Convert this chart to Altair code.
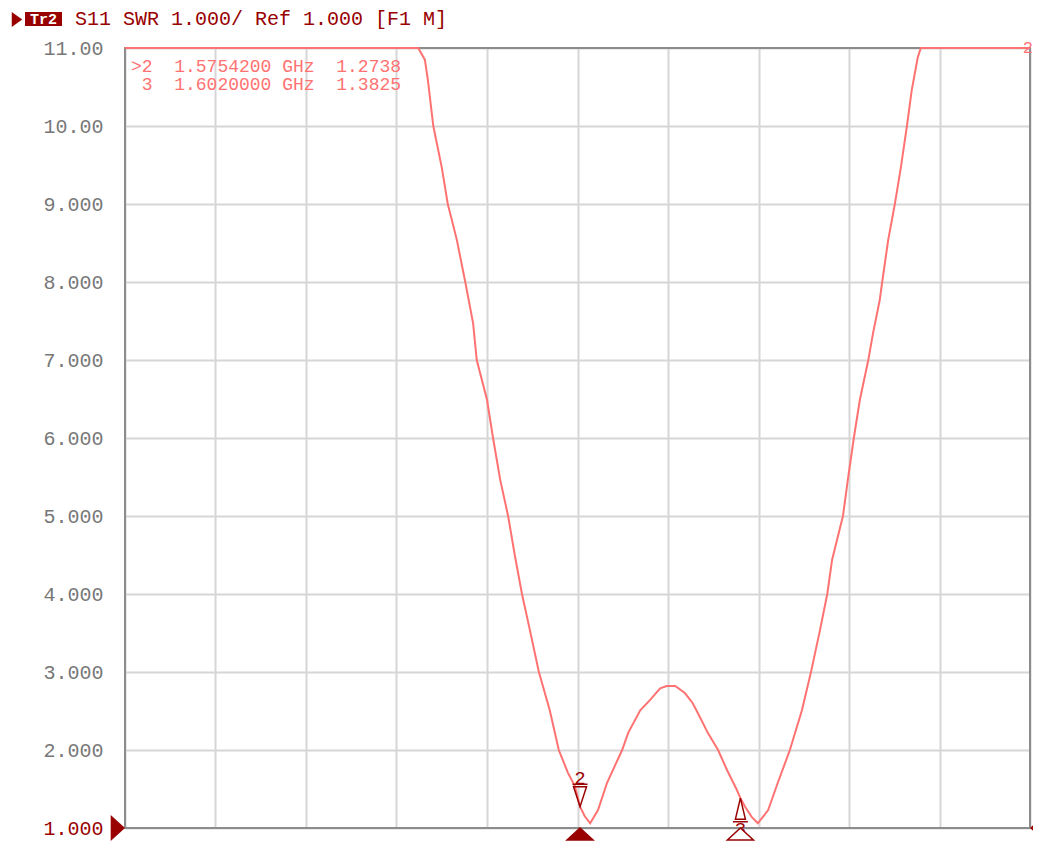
import altair as alt
import pandas as pd

# ---- trace data (frequency in GHz, SWR) ----
freq_ghz = [1.5000, 1.5486, 1.5497, 1.5502, 1.5511, 1.5525, 1.5535, 1.5550, 1.5564, 1.5577,
            1.5583, 1.5600, 1.5610, 1.5622, 1.5635, 1.5646, 1.5658, 1.5671, 1.5686, 1.5704,
            1.5719, 1.5734, 1.5746, 1.57542, 1.5762, 1.5771, 1.5784, 1.5799, 1.5824, 1.5834,
            1.5854, 1.5870, 1.5887, 1.5898, 1.5912, 1.5928, 1.5941, 1.5953, 1.5966, 1.5983,
            1.5998, 1.6014, 1.6020, 1.6028, 1.6039, 1.6049, 1.6066, 1.6082, 1.6102, 1.6122,
            1.6137, 1.6152, 1.6164, 1.6172, 1.6190, 1.6198, 1.6208, 1.6218, 1.6232, 1.6240,
            1.6251, 1.6255, 1.6265, 1.6276, 1.6286, 1.6296, 1.6304, 1.6314, 1.6319, 1.6500]
swr = [11.0, 11.0, 10.85, 10.59, 10.0, 9.47, 9.0, 8.54, 8.0, 7.47,
       7.0, 6.49, 6.0, 5.46, 5.0, 4.5, 4.0, 3.54, 3.0, 2.51,
       2.0, 1.71, 1.53, 1.2738, 1.15, 1.06, 1.23, 1.58, 2.0, 2.22,
       2.51, 2.64, 2.79, 2.82, 2.82, 2.73, 2.60, 2.42, 2.22, 2.0,
       1.74, 1.49, 1.3825, 1.27, 1.14, 1.06, 1.23, 1.58, 2.0, 2.51,
       3.0, 3.54, 4.0, 4.44, 5.0, 5.46, 6.0, 6.49, 7.0, 7.35,
       7.77, 8.0, 8.54, 9.0, 9.47, 10.0, 10.46, 10.88, 11.0, 11.0]

# ---- markers ----
marker_ids = [2, 3]
marker_freq = [1.57542, 1.6020]
marker_swr = [1.2738, 1.3825]
active_marker = 2

# ---- axes ----
f_start, f_stop = 1.500, 1.650
x_grid = [1.500, 1.515, 1.530, 1.545, 1.560, 1.575, 1.590, 1.605, 1.620, 1.635, 1.650]
y_ticks = [1, 2, 3, 4, 5, 6, 7, 8, 9, 10, 11]

title_text = "S11 SWR 1.000/ Ref 1.000 [F1 M]"
trace_name = "Tr2"

TRACE = "#ff7272"
DARK = "#990000"
GRID = "#d6d6d6"
BORDER = "#8c8c8c"
FONT = "Liberation Mono"
NB = "\u00a0"

W, H = 905, 780

trace_df = pd.DataFrame({"freq": freq_ghz, "swr": swr})
mk_df = pd.DataFrame({"id": marker_ids, "freq": marker_freq, "swr": marker_swr})
one = pd.DataFrame({"a": [0]})

xs = alt.Scale(domain=[f_start, f_stop], nice=False, zero=False)
ys = alt.Scale(domain=[1, 11], nice=False, zero=False)

X2 = alt.X("freq:Q", scale=xs, title=None)
Y2 = alt.Y("swr:Q", scale=ys, title=None)

# border (drawn under the trace so the clipped trace covers it)
border = alt.Chart(one).mark_rect(fillOpacity=0, stroke=BORDER, strokeWidth=2).encode(
    x=alt.value(0), x2=alt.value(W), y=alt.value(0), y2=alt.value(H)
)

trace = alt.Chart(trace_df).mark_line(color=TRACE, strokeWidth=2, clip=False).encode(
    x=alt.X("freq:Q", scale=xs, title=None,
            axis=alt.Axis(values=x_grid, grid=True, labels=False, ticks=False, domain=False,
                          gridColor=GRID, gridWidth=2, gridOpacity=1)),
    y=alt.Y("swr:Q", scale=ys, title=None,
            axis=alt.Axis(values=y_ticks, grid=True, ticks=False, tickSize=0, domain=False,
                          gridColor=GRID, gridWidth=2, gridOpacity=1,
                          labelFont=FONT, labelFontSize=20, labelPadding=22,
                          labelColor={"condition": {"test": "datum.value === 1", "value": DARK},
                                      "value": "#777777"},
                          labelExpr="datum.value >= 10 ? format(datum.value, '.2f') : format(datum.value, '.3f')")),
)

layers = [border, trace]

# marker symbols, labels and stimulus-axis triangles
down_tri = "M -0.65 -2 L 0.65 -2 L 0 0 Z M -0.75 -2.25 L 0.75 -2.25"
up_tri = "M 0 0 L 0.5 2.1 L -0.5 2.1 Z M -0.75 2.35 L 0.75 2.35"
bottom_tri = "M 0 0 L 1 0.92 L -1 0.92 Z"
for i, m in enumerate(marker_ids):
    d = mk_df[mk_df["id"] == m]
    above = (i == 0)
    layers.append(alt.Chart(d).mark_point(shape=down_tri if above else up_tri, size=400,
                                          filled=False, stroke=DARK, strokeWidth=1.5, opacity=1)
                  .encode(x=X2, y=Y2))
    layers.append(alt.Chart(d).mark_text(font=FONT, fontSize=19, color=DARK, baseline="middle",
                                         align="center", dy=-29 if above else 31)
                  .encode(x=X2, y=Y2, text=alt.Text("id:N")))
    active = (m == active_marker)
    layers.append(alt.Chart(d).mark_point(shape=bottom_tri, size=676, filled=active,
                                          fill=DARK if active else "white", stroke=DARK,
                                          strokeWidth=1.5, opacity=1)
                  .encode(x=X2, y=alt.value(H)))

# reference-level triangles on both sides
ref_df = pd.DataFrame({"freq": [f_start, f_stop], "swr": [1.0, 1.0]})
layers.append(alt.Chart(ref_df.iloc[[0]]).mark_point(shape="M 0 0 L -1.1 -1 L -1.1 1 Z", size=676,
                                                     filled=True, color=DARK, opacity=1)
              .encode(x=X2, y=Y2))
layers.append(alt.Chart(ref_df.iloc[[1]]).mark_point(shape="M 0 0 L 1.1 -1 L 1.1 1 Z", size=676,
                                                     filled=True, color=DARK, opacity=1)
              .encode(x=X2, y=Y2))

# trace number at right end
layers.append(alt.Chart(pd.DataFrame({"freq": [f_stop], "swr": [11.0], "t": [trace_name[-1]]}))
              .mark_text(font=FONT, fontSize=17, color=TRACE, align="right", baseline="middle", dx=3)
              .encode(x=X2, y=Y2, text="t:N"))

# marker readout lines
for i, (m, f, s) in enumerate(zip(marker_ids, marker_freq, marker_swr)):
    is_active = (m == active_marker)
    line = f"{'>' if is_active else ''}{m}{NB}{NB}{f:.7f}{NB}GHz{NB}{NB}{s:.4f}"
    layers.append(alt.Chart(one).mark_text(font=FONT, fontSize=18, color=TRACE, align="left",
                                           baseline="alphabetic", text=line)
                  .encode(x=alt.value(6 if is_active else 16.8), y=alt.value(23.5 + 18.5 * i)))

# header: arrow, trace box, title
layers.append(alt.Chart(one).mark_point(shape="M -0.7 -1 L 0.7 0 L -0.7 1 Z", size=225, filled=True,
                                        color=DARK, opacity=1)
              .encode(x=alt.value(-108), y=alt.value(-28.5)))
layers.append(alt.Chart(one).mark_rect(color=DARK).encode(
    x=alt.value(-100), x2=alt.value(-63), y=alt.value(-36), y2=alt.value(-22)))
layers.append(alt.Chart(one).mark_text(font=FONT, fontSize=15, fontWeight="bold", color="white",
                                       align="center", baseline="middle", text=trace_name)
              .encode(x=alt.value(-81.5), y=alt.value(-29)))
layers.append(alt.Chart(one).mark_text(font=FONT, fontSize=20, color=DARK, align="left",
                                       baseline="alphabetic", text=title_text.replace(" ", NB))
              .encode(x=alt.value(-50), y=alt.value(-23)))

chart = alt.layer(*layers).properties(
    width=W, height=H,
    autosize=alt.AutoSizeParams(type="none"),
    padding={"left": 117, "top": 40, "right": 3, "bottom": 13},
).configure_view(stroke=None).configure(background="white")

chart.save("out.html", embed_options={"renderer": "svg", "actions": False})
